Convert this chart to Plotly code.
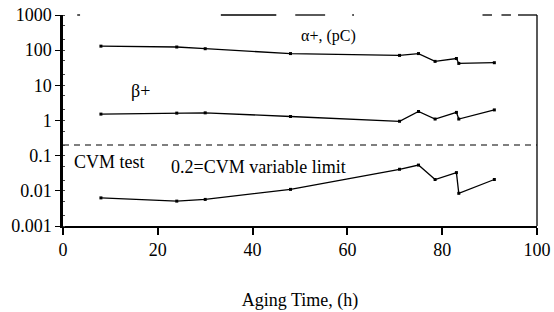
import plotly.graph_objects as go

# ---- data ----
aging_time_h = [8, 24, 30, 48, 71, 75, 78.5, 83, 83.5, 91]
alpha_plus_pC = [130, 123, 110, 80, 71, 80, 48, 58, 42, 44]
beta_plus = [1.52, 1.62, 1.65, 1.3, 0.95, 1.8, 1.1, 1.7, 1.1, 2.0]
cvm_test = [0.0063, 0.0051, 0.0057, 0.011, 0.041, 0.054, 0.021, 0.033, 0.0085, 0.021]
cvm_limit = 0.2
x_range = [0, 100]
x_ticks = [0, 20, 40, 60, 80, 100]
y_ticks = [0.001, 0.01, 0.1, 1, 10, 100, 1000]
y_tick_labels = ["0.001", "0.01", "0.1", "1", "10", "100", "1000"]

FONT = "'Liberation Serif', 'DejaVu Serif', serif"

fig = go.Figure()

line_style = dict(color="black", width=1.3)
marker_style = dict(symbol="square", size=3, color="black")

for series in (alpha_plus_pC, beta_plus, cvm_test):
    fig.add_trace(go.Scatter(x=aging_time_h, y=series, mode="lines+markers",
                             line=line_style, marker=marker_style,
                             showlegend=False, hoverinfo="skip"))

# CVM variable limit (dashed)
fig.add_trace(go.Scatter(x=x_range, y=[cvm_limit, cvm_limit], mode="lines",
                         line=dict(color="#555555", width=1.5, dash="6px,5px"),
                         showlegend=False, hoverinfo="skip"))

fig.update_layout(
    width=554, height=312,
    margin=dict(l=63, r=17, t=15, b=86),
    paper_bgcolor="white", plot_bgcolor="white",
    font=dict(family=FONT, size=18, color="black"),
    xaxis=dict(range=x_range, tickvals=x_ticks, ticks="outside", ticklen=7,
               tickwidth=1.5, tickcolor="black", showline=True, linecolor="black",
               linewidth=1.5, showgrid=False, zeroline=False, automargin=False,
               ticklabelstandoff=0,
               title=dict(text="Aging Time, (h)", font=dict(size=18, family=FONT),
                          standoff=34)),
    yaxis=dict(type="log", range=[-3, 3], tickvals=y_ticks, ticktext=y_tick_labels,
               ticks="outside", ticklen=5, tickwidth=1.2, tickcolor="black",
               showline=True, linecolor="black", linewidth=2.5, showgrid=False,
               zeroline=False, ticklabelstandoff=0, automargin=False,
               minor=dict(ticks="inside", ticklen=2, tickcolor="#444", tickwidth=0.8)),
)

# broken top frame and thin right frame (as in the scanned figure)
top_segments = [(0.03, 0.036), (0.333, 0.45), (0.49, 0.553), (0.61, 0.614),
                (0.885, 0.905), (0.925, 0.945), (0.96, 1.0)]
for a, b in top_segments:
    fig.add_shape(type="line", xref="paper", yref="paper", x0=a, x1=b, y0=1, y1=1,
                  line=dict(color="black", width=1.3))
fig.add_shape(type="line", xref="paper", yref="paper", x0=1, x1=1, y0=0, y1=1,
              line=dict(color="black", width=1.3))

annotations = [
    dict(text="α+, (pC)", x=56, y=2.39, xanchor="center", size=16),
    dict(text="β+", x=16.3, y=0.84, xanchor="center", size=18),
    dict(text="CVM test", x=2.0, y=-1.19, xanchor="left", size=18),
    dict(text="0.2=CVM variable limit", x=41.2, y=-1.33, xanchor="center", size=18),
]
for a in annotations:
    fig.add_annotation(text=a["text"], x=a["x"], y=a["y"], xref="x", yref="y",
                       xanchor=a["xanchor"], yanchor="middle", showarrow=False,
                       font=dict(family=FONT, size=a["size"], color="black"))

# remove the default page margin so the 554x312 figure fills the window exactly
fig.write_html("out.html", config={"displayModeBar": False},
               post_script="document.body.style.margin='0';document.body.style.overflow='hidden';")
